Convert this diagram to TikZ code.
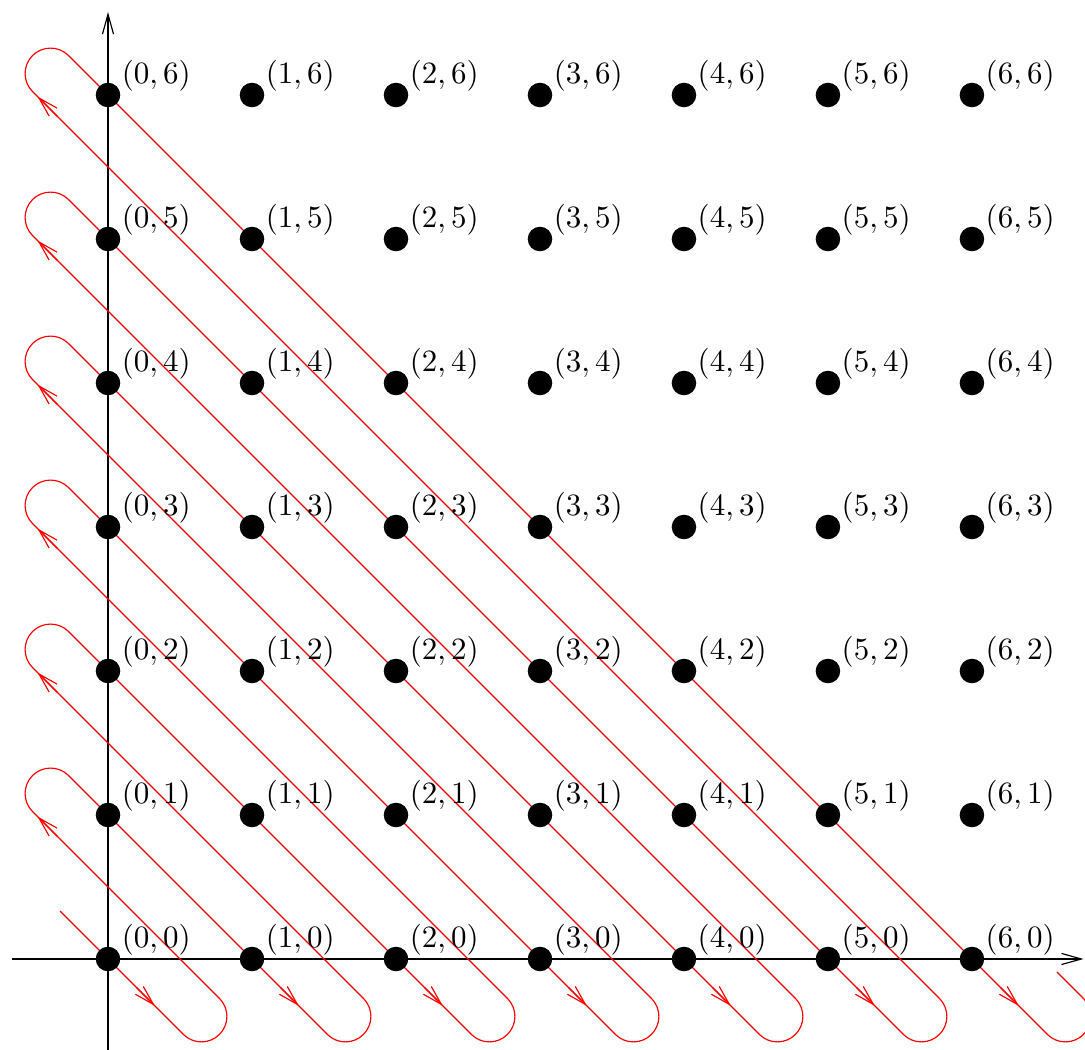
\documentclass[tikz,border=0pt]{standalone}
\usepackage{fix-cm}
\usetikzlibrary{arrows.meta}
\tikzset{
  dot/.style={circle, fill=black, inner sep=0pt, minimum size=8.4pt},
  ptlabel/.style={inner sep=1pt, xshift=0.4pt, yshift=-3pt, font=\fontsize{10.6}{12}\selectfont},
  barb/.style={-{Straight Barb[length=6.8pt,width=3.8pt]}},
}
\begin{document}
\begin{tikzpicture}[x=1.731cm, y=1.731cm]
\useasboundingbox (-0.75,-0.632) rectangle (6.785,6.66);

% axes
\draw[barb] (-0.667,0) -- (6.775,0);
\draw[barb] (0,-0.632) -- (0,6.576);

% diagonal walk with its turns
\draw[red] (-0.333,0.333)
  \foreach \k in {0,...,5} {
    -- (\k+0.524,-0.524) arc[start angle=225, end angle=405, radius=0.1768]
    -- (-0.524,\k+1.024) arc[start angle=225, end angle=45, radius=0.1768]
  }
  -- (6.524,-0.524) arc[start angle=225, end angle=405, radius=0.1768]
  -- (6.59,-0.09);

% direction marks
\foreach \k in {0,...,6}
  \draw[red, barb] (\k+0.2,-0.2) -- (\k+0.326,-0.326);
\foreach \k in {1,...,6}
  \draw[red, barb] (-0.35,\k-0.15) -- (-0.49,\k-0.01);

% lattice points
\foreach \i in {0,...,6}
  \foreach \j in {0,...,6}
    \node[dot, label={[ptlabel]above right:$(\i,\j)$}] (p-\i-\j) at (\i,\j) {};

\end{tikzpicture}
\end{document}
